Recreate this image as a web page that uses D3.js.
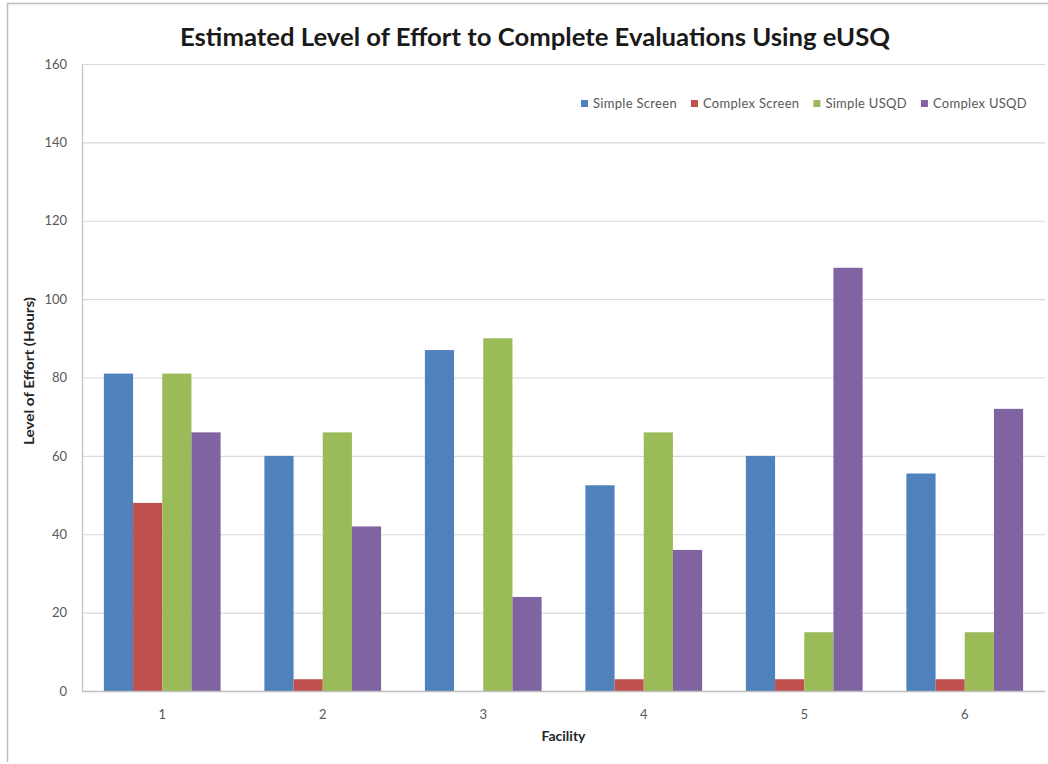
<!DOCTYPE html>
<html>
<head>
<meta charset="utf-8">
<script src="https://cdn.jsdelivr.net/npm/d3@7"></script>
<style>
  html, body { margin: 0; padding: 0; background: #fff; }
  svg { display: block; }
  text { font-family: Lato, "Open Sans", "DejaVu Sans", sans-serif; }
</style>
</head>
<body>
<svg id="chart" width="1048" height="764"></svg>
<script>
const title = "Estimated Level of Effort to Complete Evaluations Using eUSQ";
const yAxisTitle = "Level of Effort (Hours)";
const xAxisTitle = "Facility";
const categories = ["1", "2", "3", "4", "5", "6"];
const seriesNames = ["Simple Screen", "Complex Screen", "Simple USQD", "Complex USQD"];
const seriesColors = ["#4F81BD", "#C0504D", "#9BBB59", "#8064A2"];
const simpleScreen  = [81, 60, 87, 52.5, 60, 55.5];
const complexScreen = [48, 3, 0, 3, 3, 3];
const simpleUSQD    = [81, 66, 90, 66, 15, 15];
const complexUSQD   = [66, 42, 24, 36, 108, 72];
const yTicks = [0, 20, 40, 60, 80, 100, 120, 140, 160];

const seriesValues = [simpleScreen, complexScreen, simpleUSQD, complexUSQD];

const svg = d3.select("#chart");
const W = 1048, H = 764;
const margin = { left: 82, right: 3, top: 64, bottom: 73 };
const plotW = W - margin.left - margin.right;
const plotH = H - margin.top - margin.bottom;

// chart border (top and left visible)
svg.append("line").attr("x1", 7).attr("x2", W).attr("y1", 3.5).attr("y2", 3.5)
  .attr("stroke", "#bdbdbd").attr("stroke-width", 1.5);
svg.append("line").attr("x1", 7.5).attr("x2", 7.5).attr("y1", 3).attr("y2", 762)
  .attr("stroke", "#bdbdbd").attr("stroke-width", 1.5);

const g = svg.append("g").attr("transform", `translate(${margin.left},${margin.top})`);

const x0 = d3.scaleBand().domain(categories).range([0, plotW]).paddingInner(0).paddingOuter(0);
// group of 4 bars with gap width 150% of one bar
const barW = x0.bandwidth() / 5.5;
const x1 = d3.scaleBand().domain(seriesNames).range([0, barW * 4]);
const y = d3.scaleLinear().domain([0, 160]).range([plotH, 0]);

// gridlines
g.append("g")
  .call(d3.axisLeft(y).tickValues(yTicks).tickSize(-plotW).tickFormat(""))
  .call(s => s.select(".domain").remove())
  .call(s => s.selectAll("line").attr("stroke", "#d9d9d9").attr("stroke-width", 1.2));

// y axis labels
g.append("g")
  .call(d3.axisLeft(y).tickValues(yTicks).tickSize(0).tickPadding(15))
  .call(s => s.select(".domain").attr("stroke", "#bfbfbf").attr("stroke-width", 1.2))
  .call(s => s.selectAll("text").attr("fill", "#595959").style("font-size", "13px")
    .style("font-family", "Lato, 'Open Sans', sans-serif"));

// bars
const data = categories.map((c, i) => ({ cat: c, vals: seriesNames.map((s, j) => ({ s, v: seriesValues[j][i], c: seriesColors[j] })) }));
const groups = g.append("g").selectAll("g").data(data).join("g")
  .attr("transform", d => `translate(${x0(d.cat) + (x0.bandwidth() - barW * 4) / 2},0)`);
groups.selectAll("rect").data(d => d.vals).join("rect")
  .attr("x", d => x1(d.s))
  .attr("width", x1.bandwidth())
  .attr("y", d => y(d.v))
  .attr("height", d => plotH - y(d.v))
  .attr("fill", d => d.c);

// x axis
g.append("g").attr("transform", `translate(0,${plotH})`)
  .call(d3.axisBottom(x0).tickSize(0).tickPadding(19))
  .call(s => s.select(".domain").attr("stroke", "#bfbfbf").attr("stroke-width", 1.5))
  .call(s => s.selectAll("text").attr("fill", "#595959").style("font-size", "13px")
    .style("font-family", "Lato, 'Open Sans', sans-serif"));

// axis titles
svg.append("text").attr("x", margin.left + plotW / 2).attr("y", 741)
  .attr("text-anchor", "middle").attr("font-weight", "bold").attr("font-size", 12.5)
  .attr("fill", "#262626").attr("textLength", 44).attr("lengthAdjust", "spacingAndGlyphs")
  .text(xAxisTitle);
svg.append("text").attr("transform", "translate(34,371) rotate(-90)")
  .attr("text-anchor", "middle").attr("font-weight", "bold").attr("font-size", 12.5)
  .attr("fill", "#262626").attr("textLength", 148).attr("lengthAdjust", "spacingAndGlyphs")
  .text(yAxisTitle);

// title
const t = svg.append("text").attr("x", 535).attr("y", 46)
  .attr("text-anchor", "middle").attr("font-weight", "bold").attr("font-size", 25)
  .attr("fill", "#1a1a1a").text(title);
const tw = t.node().getComputedTextLength();
if (Math.abs(tw - 710) > 2) t.attr("textLength", 710).attr("lengthAdjust", "spacingAndGlyphs");

// legend laid out right-to-left ending at x=1027
const legend = svg.append("g");
let cursor = 1027;
const items = seriesNames.map((s, i) => ({ s, c: seriesColors[i] })).reverse();
items.forEach(it => {
  const tx = legend.append("text").attr("y", 108).attr("font-size", 13).attr("fill", "#595959")
    .attr("letter-spacing", 0.3)
    .attr("text-anchor", "end").attr("x", cursor).text(it.s);
  const w = tx.node().getComputedTextLength();
  const sx = cursor - w - 12;
  legend.append("rect").attr("x", sx).attr("y", 100).attr("width", 7).attr("height", 7).attr("fill", it.c);
  cursor = sx - 14;
});
</script>
</body>
</html>
